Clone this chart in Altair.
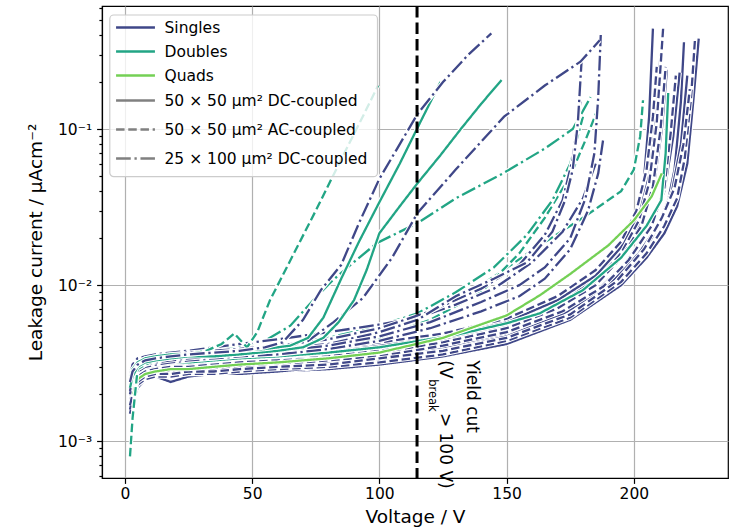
import altair as alt
import pandas as pd

# ---------------- data ----------------
# Singles, 50x50 um^2 DC-coupled (solid)
s_dc_1_v = [2, 3, 5, 8, 12, 18, 25, 35, 45, 60, 80, 100, 125, 150, 170, 185, 195, 201, 204, 206, 207.5]
s_dc_1_i = [0.0019, 0.0016, 0.0024, 0.0027, 0.0028, 0.0029, 0.0029, 0.0030, 0.0031, 0.0032, 0.0034, 0.0037, 0.0042, 0.0053, 0.0074, 0.0110, 0.0170, 0.0270, 0.048, 0.12, 0.44]
s_dc_2_v = [2, 3, 5, 8, 12, 18, 25, 35, 45, 60, 80, 100, 125, 150, 170, 185, 197, 207, 213, 216, 218.5, 219.7]
s_dc_2_i = [0.0017, 0.0021, 0.0025, 0.0026, 0.0027, 0.0026, 0.0027, 0.0028, 0.0028, 0.0029, 0.0030, 0.0032, 0.0036, 0.0044, 0.0058, 0.0080, 0.0120, 0.0200, 0.032, 0.055, 0.15, 0.36]
s_dc_3_v = [2, 3, 5, 8, 12, 18, 25, 35, 45, 60, 80, 100, 125, 150, 175, 195, 205, 212, 217, 221, 223.5, 225.5]
s_dc_3_i = [0.0015, 0.0018, 0.0022, 0.0025, 0.0026, 0.0027, 0.0026, 0.0027, 0.0028, 0.0028, 0.0029, 0.0031, 0.0035, 0.0042, 0.0060, 0.0100, 0.0150, 0.0215, 0.032, 0.06, 0.16, 0.38]
s_dc_4_v = [2, 3, 5, 8, 12, 18, 25, 35, 45, 60, 80, 100, 125, 150, 170, 185, 195, 203, 208, 211, 213]
s_dc_4_i = [0.0021, 0.0023, 0.0027, 0.0029, 0.0030, 0.0031, 0.0030, 0.0031, 0.0032, 0.0033, 0.0035, 0.0038, 0.0044, 0.0054, 0.0072, 0.0100, 0.0150, 0.025, 0.045, 0.10, 0.24]
s_dc_5_v = [2, 3, 5, 8, 12, 18, 25, 35, 45, 60, 80, 100, 125, 150, 170, 185, 197, 206, 212, 215.5, 218]
s_dc_5_i = [0.0018, 0.0020, 0.0024, 0.0026, 0.0028, 0.0026, 0.0028, 0.0029, 0.0030, 0.0031, 0.0032, 0.0035, 0.0040, 0.0049, 0.0065, 0.0090, 0.0140, 0.023, 0.04, 0.09, 0.23]
s_dc_6_v = [2, 3, 5, 8, 12, 18, 25, 35, 45, 60, 80, 100, 125, 150, 170, 185, 195, 202, 206, 208.5, 210.5]
s_dc_6_i = [0.0022, 0.0025, 0.0029, 0.0031, 0.0032, 0.0033, 0.0032, 0.0034, 0.0035, 0.0036, 0.0038, 0.0041, 0.0047, 0.0058, 0.0080, 0.0115, 0.0175, 0.028, 0.05, 0.11, 0.30]
s_dc_7_v = [2, 3, 5, 8, 12, 18, 25, 35, 45, 60, 80, 100, 125, 150, 172, 190, 202, 210, 215, 218.5, 221]
s_dc_7_i = [0.0016, 0.0019, 0.0023, 0.0025, 0.0026, 0.0024, 0.0026, 0.0027, 0.0027, 0.0028, 0.0030, 0.0033, 0.0038, 0.0047, 0.0065, 0.0100, 0.0160, 0.025, 0.04, 0.08, 0.22]

# Singles, 50x50 um^2 AC-coupled (dashed)
s_ac_1_v = [2, 3, 5, 8, 12, 18, 25, 35, 45, 60, 80, 100, 125, 150, 170, 185, 195, 202, 206, 209, 211.5]
s_ac_1_i = [0.0020, 0.0018, 0.0026, 0.0028, 0.0029, 0.0030, 0.0031, 0.0031, 0.0032, 0.0033, 0.0035, 0.0038, 0.0043, 0.0053, 0.0072, 0.0105, 0.0160, 0.026, 0.045, 0.11, 0.44]
s_ac_2_v = [2, 3, 5, 8, 12, 18, 25, 35, 45, 60, 80, 100, 125, 150, 175, 195, 205, 212, 217, 220, 222.5, 224]
s_ac_2_i = [0.0016, 0.0019, 0.0023, 0.0025, 0.0026, 0.0026, 0.0027, 0.0027, 0.0028, 0.0029, 0.0030, 0.0032, 0.0036, 0.0044, 0.0062, 0.0105, 0.016, 0.024, 0.036, 0.065, 0.16, 0.37]
s_ac_3_v = [2, 3, 5, 8, 12, 18, 25, 35, 45, 60, 80, 100, 125, 150, 170, 185, 195, 203, 207.5, 210.5, 212.5]
s_ac_3_i = [0.0019, 0.0022, 0.0026, 0.0028, 0.0029, 0.0030, 0.0030, 0.0031, 0.0032, 0.0033, 0.0034, 0.0037, 0.0043, 0.0053, 0.0071, 0.0100, 0.0150, 0.024, 0.043, 0.10, 0.25]
s_ac_4_v = [2, 3, 5, 8, 12, 18, 25, 35, 45, 60, 80, 100, 125, 150, 172, 188, 198, 207, 212, 214.5, 216.5]
s_ac_4_i = [0.0018, 0.0021, 0.0025, 0.0027, 0.0028, 0.0028, 0.0029, 0.0029, 0.0030, 0.0031, 0.0033, 0.0035, 0.0041, 0.0050, 0.0068, 0.0098, 0.0145, 0.024, 0.042, 0.095, 0.22]
s_ac_5_v = [2, 3, 5, 8, 12, 18, 25, 35, 45, 60, 80, 100, 125, 150, 170, 185, 195, 201, 205, 207.5, 209]
s_ac_5_i = [0.0023, 0.0026, 0.0030, 0.0032, 0.0033, 0.0034, 0.0035, 0.0035, 0.0036, 0.0037, 0.0039, 0.0043, 0.0049, 0.0061, 0.0085, 0.0125, 0.0190, 0.030, 0.055, 0.12, 0.25]
s_ac_6_v = [2, 3, 5, 8, 12, 18, 25, 35, 45, 60, 80, 100, 125, 150, 175, 193, 204, 211, 216, 219.5, 222]
s_ac_6_i = [0.0017, 0.0020, 0.0024, 0.0026, 0.0027, 0.0027, 0.0028, 0.0028, 0.0029, 0.0030, 0.0031, 0.0034, 0.0038, 0.0046, 0.0065, 0.0105, 0.017, 0.027, 0.042, 0.08, 0.18]

# Singles, 25x100 um^2 DC-coupled (dash-dot)
s_dd_1_v = [2, 3, 5, 8, 12, 18, 25, 35, 45, 55, 62, 70, 77, 85, 92, 100, 107, 115, 125, 135, 144]
s_dd_1_i = [0.0024, 0.0028, 0.0031, 0.0033, 0.0034, 0.0035, 0.0036, 0.0037, 0.0038, 0.0040, 0.0043, 0.0060, 0.0093, 0.0135, 0.025, 0.048, 0.075, 0.125, 0.2, 0.3, 0.41]
s_dd_2_v = [2, 3, 5, 8, 12, 18, 25, 35, 45, 60, 72, 82, 93.6, 105, 115, 130, 149, 165, 179, 186.6]
s_dd_2_i = [0.0022, 0.0026, 0.0030, 0.0032, 0.0033, 0.0034, 0.0035, 0.0036, 0.0037, 0.0039, 0.0044, 0.0058, 0.0083, 0.015, 0.029, 0.055, 0.12, 0.19, 0.27, 0.37]
s_dd_3_v = [2, 3, 5, 8, 12, 18, 25, 35, 45, 60, 80, 100, 115, 130, 145, 158, 168, 173, 176, 178, 179.5]
s_dd_3_i = [0.0023, 0.0027, 0.0031, 0.0033, 0.0034, 0.0035, 0.0035, 0.0036, 0.0037, 0.0039, 0.0042, 0.0050, 0.0060, 0.0085, 0.011, 0.014, 0.022, 0.035, 0.055, 0.11, 0.28]
s_dd_4_v = [2, 3, 5, 8, 12, 18, 25, 35, 45, 60, 80, 100, 120, 140, 155, 165, 175, 181, 184.5, 186, 187]
s_dd_4_i = [0.0021, 0.0025, 0.0029, 0.0031, 0.0032, 0.0033, 0.0034, 0.0035, 0.0036, 0.0038, 0.0041, 0.0047, 0.0058, 0.0078, 0.0100, 0.0130, 0.020, 0.036, 0.07, 0.16, 0.40]
s_dd_5_v = [2, 3, 5, 8, 12, 18, 25, 35, 45, 60, 80, 100, 120, 140, 155, 165, 175, 182, 186, 188]
s_dd_5_i = [0.0020, 0.0024, 0.0028, 0.0030, 0.0031, 0.0032, 0.0033, 0.0034, 0.0035, 0.0036, 0.0039, 0.0044, 0.0053, 0.0068, 0.0085, 0.0110, 0.017, 0.030, 0.052, 0.087]
s_dd_6_v = [2, 3, 5, 8, 12, 18, 25, 35, 45, 60, 80, 100, 120, 140, 155, 165, 172, 176, 179]
s_dd_6_i = [0.0025, 0.0029, 0.0032, 0.0034, 0.0035, 0.0036, 0.0037, 0.0038, 0.0039, 0.0041, 0.0045, 0.0053, 0.0068, 0.0095, 0.0135, 0.021, 0.035, 0.065, 0.15]
s_dd_7_v = [2, 3, 5, 8, 12, 18, 25, 35, 45, 60, 80, 100, 115, 130, 145, 160, 172, 180, 185]
s_dd_7_i = [0.0026, 0.0031, 0.0034, 0.0035, 0.0036, 0.0037, 0.0038, 0.0040, 0.0042, 0.0045, 0.0050, 0.0056, 0.0062, 0.0075, 0.0095, 0.014, 0.022, 0.036, 0.06]

# Doubles
d_dc_1_v = [2, 3, 5, 8, 12, 18, 25, 35, 45, 55, 65, 72, 78, 85, 92, 100, 108, 116, 124]
d_dc_1_i = [0.0025, 0.0029, 0.0032, 0.0034, 0.0035, 0.0036, 0.0036, 0.0037, 0.0038, 0.0039, 0.0041, 0.0046, 0.0062, 0.011, 0.019, 0.034, 0.06, 0.11, 0.2]
d_dc_2_v = [2, 3, 5, 8, 12, 18, 25, 35, 45, 60, 70, 78, 84, 90, 95, 100, 108, 115, 124, 132, 140, 148]
d_dc_2_i = [0.0022, 0.0026, 0.0030, 0.0032, 0.0033, 0.0034, 0.0035, 0.0035, 0.0036, 0.0038, 0.0040, 0.0046, 0.0058, 0.0080, 0.0125, 0.0215, 0.032, 0.045, 0.068, 0.10, 0.145, 0.206]
d_dc_3_v = [2, 3, 5, 8, 12, 18, 25, 35, 45, 60, 80, 100, 130, 150, 163, 180, 195, 205, 210.8, 212.5, 213.5]
d_dc_3_i = [0.0026, 0.0023, 0.0028, 0.0030, 0.0031, 0.0032, 0.0032, 0.0033, 0.0034, 0.0035, 0.0037, 0.0040, 0.0048, 0.0057, 0.0066, 0.0093, 0.0150, 0.024, 0.035, 0.07, 0.17]
d_ac_1_v = [2, 3, 5, 8, 12, 18, 25, 32, 38, 43, 48, 52, 57, 66, 75, 82, 88, 94, 99.5]
d_ac_1_i = [0.0008, 0.0014, 0.0029, 0.0031, 0.0033, 0.0034, 0.0036, 0.0038, 0.0042, 0.0049, 0.0040, 0.0050, 0.0080, 0.0155, 0.030, 0.051, 0.080, 0.125, 0.19]
d_ac_2_v = [2, 3, 5, 8, 12, 18, 25, 35, 45, 60, 80, 100, 120, 140, 163, 180, 195, 200, 202.5, 203.6]
d_ac_2_i = [0.0025, 0.0028, 0.0031, 0.0032, 0.0033, 0.0034, 0.0034, 0.0035, 0.0036, 0.0038, 0.0042, 0.0050, 0.0068, 0.0100, 0.0180, 0.027, 0.040, 0.055, 0.09, 0.153]
d_ac_3_v = [2, 3, 5, 8, 12, 18, 25, 35, 45, 60, 80, 100, 120, 140, 155, 165, 175, 181, 185.5]
d_ac_3_i = [0.0024, 0.0027, 0.0030, 0.0031, 0.0032, 0.0033, 0.0033, 0.0034, 0.0035, 0.0037, 0.0040, 0.0046, 0.0060, 0.0090, 0.016, 0.027, 0.050, 0.085, 0.13]
d_dd_1_v = [2, 3, 5, 8, 12, 18, 25, 35, 45, 55, 65, 74, 81, 87.5, 99, 115, 130, 148.6, 165, 176, 183]
d_dd_1_i = [0.0028, 0.0030, 0.0033, 0.0035, 0.0036, 0.0037, 0.0038, 0.0039, 0.0041, 0.0044, 0.0055, 0.008, 0.0105, 0.013, 0.0186, 0.025, 0.036, 0.052, 0.075, 0.10, 0.16]
d_dd_2_v = [2, 3, 5, 8, 12, 18, 25, 35, 45, 60, 80, 100, 115, 130, 145, 158, 168, 175, 180]
d_dd_2_i = [0.0026, 0.0029, 0.0032, 0.0034, 0.0035, 0.0036, 0.0037, 0.0038, 0.0039, 0.0041, 0.0046, 0.0055, 0.0066, 0.0090, 0.013, 0.021, 0.035, 0.06, 0.12]

# Quads
q_dc_1_v = [2, 3, 5, 8, 12, 18, 25, 35, 45, 60, 80, 100, 125, 150, 163, 175, 190, 200, 207, 211]
q_dc_1_i = [0.0024, 0.0021, 0.0025, 0.0027, 0.0028, 0.0029, 0.0029, 0.0030, 0.0031, 0.0032, 0.0034, 0.0037, 0.0046, 0.0064, 0.0086, 0.0118, 0.018, 0.026, 0.037, 0.052]

GROUPS = ["Singles", "Doubles", "Quads"]
GROUP_COLORS = ["#3f4788", "#22a585", "#74d055"]
PIXELS = ["50 × 50 µm² DC-coupled", "50 × 50 µm² AC-coupled", "25 × 100 µm² DC-coupled"]
DASHES = [[1, 0], [8.5, 3.7], [14.7, 3.7, 2.3, 3.7]]

CURVES = [
    ("s_dc_1", 0, 0, s_dc_1_v, s_dc_1_i), ("s_dc_2", 0, 0, s_dc_2_v, s_dc_2_i),
    ("s_dc_3", 0, 0, s_dc_3_v, s_dc_3_i), ("s_dc_4", 0, 0, s_dc_4_v, s_dc_4_i),
    ("s_dc_5", 0, 0, s_dc_5_v, s_dc_5_i), ("s_dc_6", 0, 0, s_dc_6_v, s_dc_6_i),
    ("s_dc_7", 0, 0, s_dc_7_v, s_dc_7_i),
    ("s_ac_1", 0, 1, s_ac_1_v, s_ac_1_i), ("s_ac_2", 0, 1, s_ac_2_v, s_ac_2_i),
    ("s_ac_3", 0, 1, s_ac_3_v, s_ac_3_i), ("s_ac_4", 0, 1, s_ac_4_v, s_ac_4_i),
    ("s_ac_5", 0, 1, s_ac_5_v, s_ac_5_i), ("s_ac_6", 0, 1, s_ac_6_v, s_ac_6_i),
    ("d_dc_3", 1, 0, d_dc_3_v, d_dc_3_i), ("q_dc_1", 2, 0, q_dc_1_v, q_dc_1_i),
    ("d_ac_2", 1, 1, d_ac_2_v, d_ac_2_i), ("d_ac_3", 1, 1, d_ac_3_v, d_ac_3_i),
    ("d_dd_2", 1, 2, d_dd_2_v, d_dd_2_i), ("d_dd_1", 1, 2, d_dd_1_v, d_dd_1_i),
    ("s_dd_7", 0, 2, s_dd_7_v, s_dd_7_i), ("s_dd_5", 0, 2, s_dd_5_v, s_dd_5_i),
    ("s_dd_6", 0, 2, s_dd_6_v, s_dd_6_i), ("s_dd_3", 0, 2, s_dd_3_v, s_dd_3_i),
    ("s_dd_4", 0, 2, s_dd_4_v, s_dd_4_i), ("s_dd_2", 0, 2, s_dd_2_v, s_dd_2_i),
    ("d_ac_1", 1, 1, d_ac_1_v, d_ac_1_i), ("d_dc_2", 1, 0, d_dc_2_v, d_dc_2_i),
    ("d_dc_1", 1, 0, d_dc_1_v, d_dc_1_i), ("s_dd_1", 0, 2, s_dd_1_v, s_dd_1_i),
]

YIELD_V = 114.8
ANN_TEXT = ["Yield cut", "(V", "break", "> 100 V)"]
ANN_V = [136.3, 125.9, 120.6, 125.9]
ANN_I = [0.00330, 0.00330, 0.00250, 0.00152]
ANN_SIZE = [17, 17, 11.5, 17]

X_TICKS = [0, 50, 100, 150, 200]
Y_TICKS = [0.0006, 0.0007, 0.0008, 0.0009,
           0.001, 0.002, 0.003, 0.004, 0.005, 0.006, 0.007, 0.008, 0.009,
           0.01, 0.02, 0.03, 0.04, 0.05, 0.06, 0.07, 0.08, 0.09,
           0.1, 0.2, 0.3, 0.4, 0.5, 0.6]

# ---------------- build ----------------
rows = []
for cid, g, p, vs, cs in CURVES:
    for k, (v, c) in enumerate(zip(vs, cs)):
        rows.append({"curve": cid, "group": GROUPS[g], "pixel": PIXELS[p], "V": v, "I": c, "k": k})
df = pd.DataFrame(rows)

FONT = "DejaVu Sans"
major = "datum.value == 0.1 || datum.value == 0.01 || datum.value == 0.001"

xaxis = alt.Axis(values=X_TICKS, title="Voltage / V", grid=True, labelFlush=False,
                 labelPadding=3, titlePadding=6)
yaxis = alt.Axis(values=Y_TICKS, title="Leakage current / µAcm⁻²", grid=True,
                 labelOverlap=False, labelFlush=False, labelPadding=5, titlePadding=12,
                 labelExpr="datum.value == 0.1 ? '10⁻¹' : datum.value == 0.01 ? '10⁻²' : datum.value == 0.001 ? '10⁻³' : ''",
                 gridOpacity={"condition": {"test": major, "value": 1}, "value": 0},
                 tickSize={"condition": {"test": major, "value": 5.4}, "value": 3.1})

X = alt.X("V:Q", scale=alt.Scale(domain=[-9, 237], nice=False, zero=False), axis=xaxis)
Y = alt.Y("I:Q", scale=alt.Scale(type="log", domain=[0.000582, 0.614], nice=False), axis=yaxis)

SYM = "M-1.62,0H1.62"
color_legend = alt.Legend(orient="none", legendX=20, legendY=8, title=None,
                          symbolType=SYM, symbolSize=576, symbolStrokeWidth=2.3,
                          labelFont=FONT, labelFontSize=15.5, labelColor="black", rowPadding=2,
                          labelOffset=15.5, padding=0, labelLimit=400)
dash_legend = alt.Legend(orient="none", legendX=20, legendY=81, title=None,
                         symbolType=SYM, symbolSize=576, symbolStrokeWidth=2.3,
                         symbolStrokeColor="#808080",
                         labelFont=FONT, labelFontSize=15.5, labelColor="black", rowPadding=7,
                         labelOffset=15.5, padding=0, labelLimit=400)
COLOR = alt.Color("group:N", scale=alt.Scale(domain=GROUPS, range=GROUP_COLORS), legend=color_legend)
DASH = alt.StrokeDash("pixel:N", scale=alt.Scale(domain=PIXELS, range=DASHES), legend=dash_legend)

layers = []
for cid, g, p, vs, cs in CURVES:
    base = alt.Chart().transform_filter(alt.datum.curve == cid)
    layers.append(base.mark_line(stroke="white", strokeWidth=4.4, strokeCap="butt", clip=True)
                  .encode(x=X, y=Y, order="k:Q"))
    layers.append(base.mark_line(strokeWidth=2.3, strokeCap="butt", clip=True)
                  .encode(x=X, y=Y, order="k:Q", color=COLOR, strokeDash=DASH))

ydf = pd.DataFrame({"V": [YIELD_V]})
layers.append(alt.Chart(ydf).mark_rule(color="black", strokeWidth=3, strokeDash=[11.5, 5]).encode(x=X))

adf = pd.DataFrame({"V": ANN_V, "I": ANN_I, "t": ANN_TEXT, "s": ANN_SIZE})
layers.append(alt.Chart(adf).mark_text(angle=90, align="left", baseline="middle", font=FONT, color="black")
              .encode(x=X, y=Y, text="t:N", size=alt.Size("s:Q", scale=None, legend=None)))

frame = pd.DataFrame({"a": [0]})
layers.append(alt.Chart(frame).mark_rect(fill="white", fillOpacity=0.8, stroke="#cccccc",
                                          strokeWidth=1.2, cornerRadius=4)
              .encode(x=alt.value(7.8), x2=alt.value(275.5), y=alt.value(9), y2=alt.value(170.7)))

chart = alt.layer(*layers, data=df).properties(
    width=626, height=472,
    autosize=alt.AutoSizeParams(type="none"),
    padding={"left": 102, "top": 6, "right": 12, "bottom": 54},
).configure_view(stroke="black", strokeWidth=1.2).configure_axis(
    labelFont=FONT, labelFontSize=15.5, labelColor="black",
    titleFont=FONT, titleFontSize=18.5, titleFontWeight="normal", titleColor="black",
    gridColor="#b0b0b0", gridWidth=1.2, domainColor="black", domainWidth=1.2,
    tickColor="black", tickWidth=1.2, tickSize=5.4,
).configure_legend(labelFont=FONT)

chart.save("out.html", embed_options={"renderer": "svg", "actions": False})
